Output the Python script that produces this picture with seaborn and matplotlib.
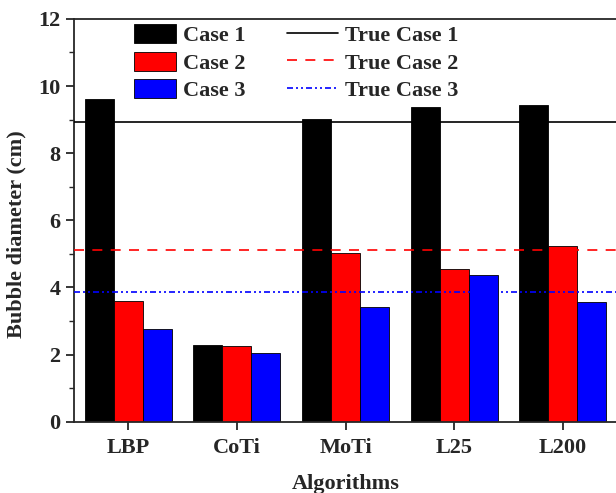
import pandas as pd
import seaborn as sns
import numpy as np
import matplotlib.pyplot as plt
from matplotlib.patches import Patch
from matplotlib.lines import Line2D
from matplotlib.ticker import MultipleLocator

# values
algorithms = ['LBP', 'CoTi', 'MoTi', 'L25', 'L200']
case1 = [9.61, 2.28, 9.02, 9.38, 9.44]
case2 = [3.60, 2.27, 5.04, 4.55, 5.23]
case3 = [2.76, 2.04, 3.43, 4.37, 3.57]
cases = ['Case 1', 'Case 2', 'Case 3']
true_values = [8.92, 5.12, 3.87]
true_labels = ['True Case 1', 'True Case 2', 'True Case 3']
colors = ['black', 'red', 'blue']

# long format for seaborn
df = pd.DataFrame({
    'algorithm': algorithms * 3,
    'case': np.repeat(cases, len(algorithms)),
    'diameter': case1 + case2 + case3,
})

sns.set_style('ticks')
plt.rcParams['font.family'] = ['Liberation Serif', 'DejaVu Serif']
plt.rcParams['font.weight'] = 'bold'

fig = plt.figure(figsize=(6.16, 4.93), dpi=100)
ax = fig.add_axes([0.120, 0.1446, 0.882, 0.817])

sns.barplot(data=df, x='algorithm', y='diameter', hue='case',
            palette=colors, width=0.8, edgecolor='black', linewidth=0.6,
            saturation=1, ax=ax, legend=False)

line_styles = ['-', (0, (6, 5)), (0, (3.6, 1.8, 1.2, 1.8, 1.2, 1.8))]
for val, col, ls in zip(true_values, colors, line_styles):
    ax.axhline(val, color=col, linestyle=ls, linewidth=1.2, zorder=3)

ax.set_xlim(-0.5, 4.5)
ax.set_ylim(0, 12)
ax.yaxis.set_major_locator(MultipleLocator(2))
ax.yaxis.set_minor_locator(MultipleLocator(1))
ax.tick_params(axis='both', which='major', labelsize=16, width=1.3, length=6, direction='out')
ax.tick_params(axis='y', which='minor', width=1.0, length=3.5, direction='out')
ax.tick_params(axis='x', pad=6)
for lab in ax.get_xticklabels() + ax.get_yticklabels():
    lab.set_fontweight('bold')
for sp in ax.spines.values():
    sp.set_visible(True)
    sp.set_linewidth(1.3)

ax.set_xlabel('Algorithms', fontsize=16, fontweight='bold', labelpad=11)
ax.set_ylabel('Bubble diameter (cm)', fontsize=16, fontweight='bold')
ax.yaxis.set_label_coords(-0.088, 0.466)

# two legends: bar patches and reference lines
bar_handles = [Patch(facecolor=c, edgecolor='black', linewidth=0.6) for c in colors]
leg1 = ax.legend(bar_handles, cases, loc='upper left', bbox_to_anchor=(0.09, 1.015),
                 frameon=False, fontsize=16, handlelength=1.9, handleheight=0.95,
                 labelspacing=0.24, handletextpad=0.3, borderaxespad=0.1)
ax.add_artist(leg1)
line_handles = [Line2D([], [], color=c, linestyle=ls, linewidth=1.2)
                for c, ls in zip(colors, line_styles)]
ax.legend(line_handles, true_labels, loc='upper left', bbox_to_anchor=(0.371, 1.015),
          frameon=False, fontsize=16, handlelength=2.3, handleheight=0.95,
          labelspacing=0.24, handletextpad=0.35, borderaxespad=0.1)

fig.savefig('out.png', dpi=100)
